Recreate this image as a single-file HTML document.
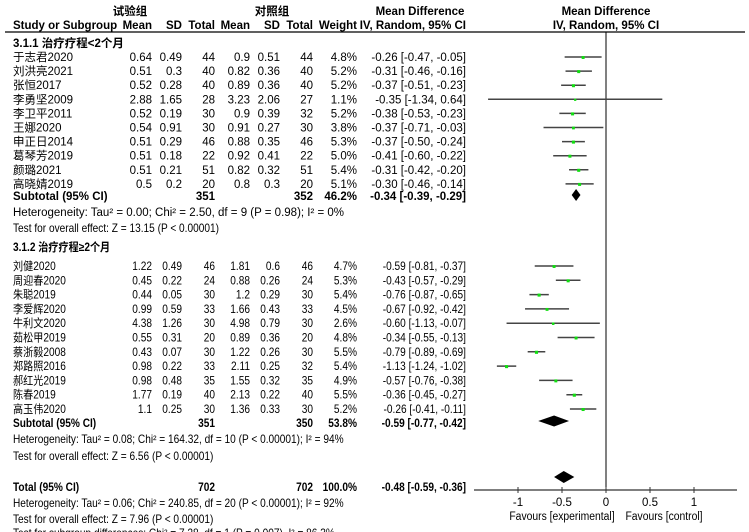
<!DOCTYPE html>
<html><head><meta charset="utf-8">
<style>
html,body{margin:0;padding:0;background:#fff;}
svg{display:block;font-family:"Liberation Sans","Noto Sans CJK SC",sans-serif;}
</style></head>
<body>
<svg id="plot" width="749" height="532" viewBox="0 0 749 532"></svg>
<script>
const studies1 = ["于志君2020","刘洪亮2021","张恒2017","李勇坚2009","李卫平2011","王娜2020","申正日2014","葛琴芳2019","颜璐2021","高晓婧2019"];
const expMean1 = ["0.64","0.51","0.52","2.88","0.52","0.54","0.51","0.51","0.51","0.5"];
const expSD1 = ["0.49","0.3","0.28","1.65","0.19","0.91","0.29","0.18","0.21","0.2"];
const expN1 = ["44","40","40","28","30","30","46","22","51","20"];
const ctlMean1 = ["0.9","0.82","0.89","3.23","0.9","0.91","0.88","0.92","0.82","0.8"];
const ctlSD1 = ["0.51","0.36","0.36","2.06","0.39","0.27","0.35","0.41","0.32","0.3"];
const ctlN1 = ["44","40","40","27","32","30","46","22","51","20"];
const weight1 = [4.8,5.2,5.2,1.1,5.2,3.8,5.3,5.0,5.4,5.1];
const md1 = [-0.26,-0.31,-0.37,-0.35,-0.38,-0.37,-0.37,-0.41,-0.31,-0.30];
const lo1 = [-0.47,-0.46,-0.51,-1.34,-0.53,-0.71,-0.50,-0.60,-0.42,-0.46];
const hi1 = [-0.05,-0.16,-0.23,0.64,-0.23,-0.03,-0.24,-0.22,-0.20,-0.14];

const studies2 = ["刘健2020","周迎春2020","朱聪2019","李爱辉2020","牛利文2020","茹松甲2019","蔡浙毅2008","郑路照2016","郝红光2019","陈春2019","高玉伟2020"];
const expMean2 = ["1.22","0.45","0.44","0.99","4.38","0.55","0.43","0.98","0.98","1.77","1.1"];
const expSD2 = ["0.49","0.22","0.05","0.59","1.26","0.31","0.07","0.22","0.48","0.19","0.25"];
const expN2 = ["46","24","30","33","30","20","30","33","35","40","30"];
const ctlMean2 = ["1.81","0.88","1.2","1.66","4.98","0.89","1.22","2.11","1.55","2.13","1.36"];
const ctlSD2 = ["0.6","0.26","0.29","0.43","0.79","0.36","0.26","0.25","0.32","0.22","0.33"];
const ctlN2 = ["46","24","30","33","30","20","30","32","35","40","30"];
const weight2 = [4.7,5.3,5.4,4.5,2.6,4.8,5.5,5.4,4.9,5.5,5.2];
const md2 = [-0.59,-0.43,-0.76,-0.67,-0.60,-0.34,-0.79,-1.13,-0.57,-0.36,-0.26];
const lo2 = [-0.81,-0.57,-0.87,-0.92,-1.13,-0.55,-0.89,-1.24,-0.76,-0.45,-0.41];
const hi2 = [-0.37,-0.29,-0.65,-0.42,-0.07,-0.13,-0.69,-1.02,-0.38,-0.27,-0.11];

const subMd = [-0.34,-0.59];
const subLo = [-0.39,-0.77];
const subHi = [-0.29,-0.42];
const totMd = -0.48, totLo = -0.59, totHi = -0.36;
const xTicks = [-1,-0.5,0,0.5,1];
const xTickLabels = ["-1","-0.5","0","0.5","1"];

const svg = document.getElementById('plot');
const NS = 'http://www.w3.org/2000/svg';
const ZERO = 606, UNIT = 88;
function xs(v){ return ZERO + v*UNIT; }
function mk(tag, attrs, parent){
  const e = document.createElementNS(NS, tag);
  for (const k in attrs) e.setAttribute(k, attrs[k]);
  (parent||svg).appendChild(e);
  return e;
}
function txt(x, y, s, name, opt){
  opt = opt||{};
  const t = mk('text', {x:x, y:y, 'font-size': opt.size||11.5, fill:'#000', 'text-anchor': opt.anchor||'start', 'font-weight': opt.bold?'bold':'normal'});
  if (opt.scale) t.setAttribute('transform', 'translate(' + x + ',0) scale(' + opt.scale + ',1) translate(' + (-x) + ',0)');
  t.textContent = s;
  
  
  return t;
}

// headers
txt(130, 15, '试验组', 'header-experimental', {bold:true, anchor:'middle'});
txt(272, 15, '对照组', 'header-control', {bold:true, anchor:'middle'});
txt(420, 15, 'Mean Difference', 'header-md', {bold:true, anchor:'middle'});
txt(606, 15, 'Mean Difference', 'header-md-plot', {bold:true, anchor:'middle'});
const hy = 29;
txt(13, hy, 'Study or Subgroup', 'header-study', {bold:true});
txt(152, hy, 'Mean', 'header-exp-mean', {bold:true, anchor:'end'});
txt(182, hy, 'SD', 'header-exp-sd', {bold:true, anchor:'end'});
txt(215, hy, 'Total', 'header-exp-total', {bold:true, anchor:'end'});
txt(250, hy, 'Mean', 'header-ctl-mean', {bold:true, anchor:'end'});
txt(280, hy, 'SD', 'header-ctl-sd', {bold:true, anchor:'end'});
txt(313, hy, 'Total', 'header-ctl-total', {bold:true, anchor:'end'});
txt(357, hy, 'Weight', 'header-weight', {bold:true, anchor:'end'});
txt(466, hy, 'IV, Random, 95% CI', 'header-ci', {bold:true, anchor:'end'});
txt(606, hy, 'IV, Random, 95% CI', 'header-ci-plot', {bold:true, anchor:'middle'});
let hl = mk('line', {x1:5, y1:32, x2:745, y2:32, stroke:'#000', 'stroke-width':1.2});



// zero line
let zl = mk('line', {x1:xs(0), y1:32, x2:xs(0), y2:490, stroke:'#000', 'stroke-width':1});



function fmt(v){ return (v<0?'-':'') + Math.abs(v).toFixed(2); }

function drawGroup(studies, em, esd, en, cm, csd, cn, w, md, lo, hi, y0, dy, sc, prefix){
  for (let i=0;i<studies.length;i++){
    const y = y0 + i*dy;
    const o = sc ? {scale:sc} : {};
    txt(13, y, studies[i], prefix+'-study-name', o);
    txt(152, y, em[i], prefix+'-exp-mean', Object.assign({anchor:'end'},o));
    txt(182, y, esd[i], prefix+'-exp-sd', Object.assign({anchor:'end'},o));
    txt(215, y, en[i], prefix+'-exp-total', Object.assign({anchor:'end'},o));
    txt(250, y, cm[i], prefix+'-ctl-mean', Object.assign({anchor:'end'},o));
    txt(280, y, csd[i], prefix+'-ctl-sd', Object.assign({anchor:'end'},o));
    txt(313, y, cn[i], prefix+'-ctl-total', Object.assign({anchor:'end'},o));
    txt(357, y, w[i].toFixed(1)+'%', prefix+'-weight', Object.assign({anchor:'end'},o));
    txt(466, y, fmt(md[i])+' ['+fmt(lo[i])+', '+fmt(hi[i])+']', prefix+'-ci-text', Object.assign({anchor:'end'},o));
    const cy = y - 4;
    const l = mk('line', {x1:xs(lo[i]), y1:cy, x2:xs(hi[i]), y2:cy, stroke:'#444', 'stroke-width':1.5});
    
    
    const s = 2 + w[i]*0.2;
    const r = mk('rect', {x:xs(md[i])-s/2, y:cy-s/2+0.5, width:s, height:s, fill:'#11dd11'});
    
    
  }
}
function diamond(md, lo, hi, cy, h, name){
  const p = mk('polygon', {points: xs(lo)+','+cy+' '+xs(md)+','+(cy-h/2)+' '+xs(hi)+','+cy+' '+xs(md)+','+(cy+h/2), fill:'#000'});
  
  
}

// group 1
txt(13, 47, '3.1.1 治疗疗程<2个月', 'subgroup1-title', {bold:true});
drawGroup(studies1, expMean1, expSD1, expN1, ctlMean1, ctlSD1, ctlN1, weight1, md1, lo1, hi1, 61, 14.1, null, 'g1');
txt(13, 200, 'Subtotal (95% CI)', 'subtotal1-label', {bold:true});
txt(215, 200, '351', 'subtotal1-exp-total', {bold:true, anchor:'end'});
txt(313, 200, '352', 'subtotal1-ctl-total', {bold:true, anchor:'end'});
txt(357, 200, '46.2%', 'subtotal1-weight', {bold:true, anchor:'end'});
txt(466, 200, '-0.34 [-0.39, -0.29]', 'subtotal1-ci', {bold:true, anchor:'end'});
diamond(subMd[0], subLo[0], subHi[0], 195, 12, 'subtotal1-diamond');
txt(13, 216, 'Heterogeneity: Tau² = 0.00; Chi² = 2.50, df = 9 (P = 0.98); I² = 0%', 'subgroup1-heterogeneity');
txt(13, 232, 'Test for overall effect: Z = 13.15 (P < 0.00001)', 'subgroup1-overall-effect', {scale:0.88});

// group 2
const S = 0.88;
txt(13, 251, '3.1.2 治疗疗程≥2个月', 'subgroup2-title', {bold:true, scale:S});
drawGroup(studies2, expMean2, expSD2, expN2, ctlMean2, ctlSD2, ctlN2, weight2, md2, lo2, hi2, 270, 14.3, S, 'g2');
txt(13, 427, 'Subtotal (95% CI)', 'subtotal2-label', {bold:true, scale:S});
txt(215, 427, '351', 'subtotal2-exp-total', {bold:true, anchor:'end', scale:S});
txt(313, 427, '350', 'subtotal2-ctl-total', {bold:true, anchor:'end', scale:S});
txt(357, 427, '53.8%', 'subtotal2-weight', {bold:true, anchor:'end', scale:S});
txt(466, 427, '-0.59 [-0.77, -0.42]', 'subtotal2-ci', {bold:true, anchor:'end', scale:S});
diamond(subMd[1], subLo[1], subHi[1], 421, 11, 'subtotal2-diamond');
txt(13, 443, 'Heterogeneity: Tau² = 0.08; Chi² = 164.32, df = 10 (P < 0.00001); I² = 94%', 'subgroup2-heterogeneity', {scale:S});
txt(13, 460, 'Test for overall effect: Z = 6.56 (P < 0.00001)', 'subgroup2-overall-effect', {scale:S});

// total
txt(13, 491, 'Total (95% CI)', 'total-label', {bold:true, scale:S});
txt(215, 491, '702', 'total-exp', {bold:true, anchor:'end', scale:S});
txt(313, 491, '702', 'total-ctl', {bold:true, anchor:'end', scale:S});
txt(357, 491, '100.0%', 'total-weight', {bold:true, anchor:'end', scale:S});
txt(466, 491, '-0.48 [-0.59, -0.36]', 'total-ci', {bold:true, anchor:'end', scale:S});
diamond(totMd, totLo, totHi, 477, 12, 'total-diamond');
txt(13, 507, 'Heterogeneity: Tau² = 0.06; Chi² = 240.85, df = 20 (P < 0.00001); I² = 92%', 'total-heterogeneity', {scale:S});
txt(13, 523, 'Test for overall effect: Z = 7.96 (P < 0.00001)', 'total-overall-effect', {scale:S});
txt(13, 537, 'Test for subgroup differences: Chi² = 7.28, df = 1 (P = 0.007), I² = 86.3%', 'subgroup-differences', {scale:S});

// axis
let ax = mk('line', {x1:474, y1:490, x2:737, y2:490, stroke:'#333', 'stroke-width':1.2});


for (let i=0;i<xTicks.length;i++){
  const x = xs(xTicks[i]);
  const t = mk('line', {x1:x, y1:487, x2:x, y2:493, stroke:'#333', 'stroke-width':1});
  
  
  txt(x, 506, xTickLabels[i], 'x-tick-label', {anchor:'middle'});
}
txt(562, 520, 'Favours [experimental]', 'favours-experimental-label', {anchor:'middle', scale:0.9});
txt(664, 520, 'Favours [control]', 'favours-control-label', {anchor:'middle', scale:0.9});
</script>
</body></html>
